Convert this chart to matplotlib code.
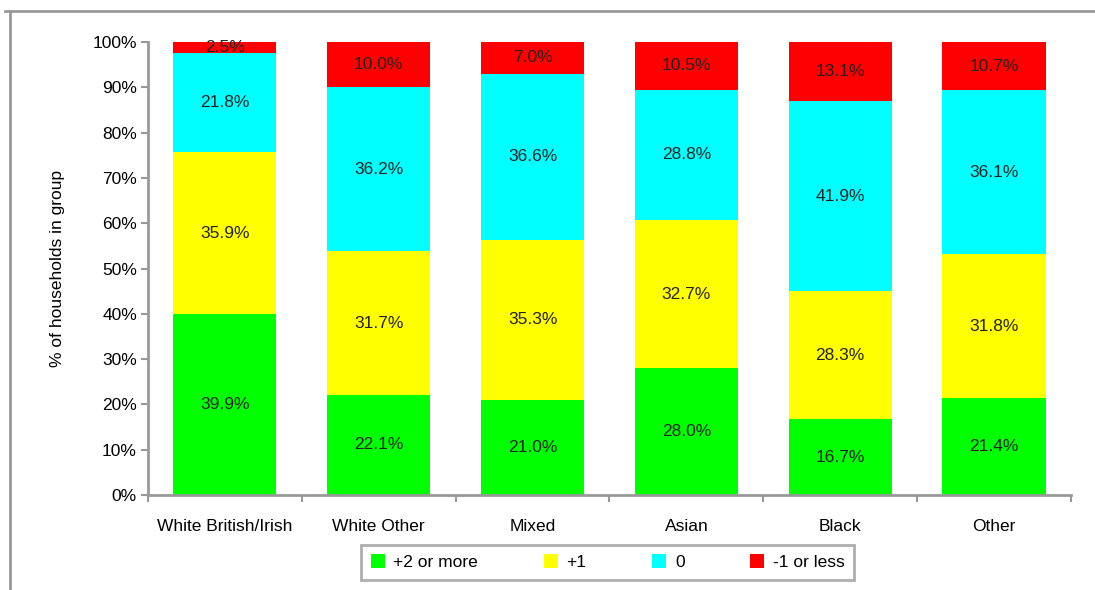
import matplotlib
matplotlib.use('Agg')
import matplotlib.pyplot as plt
import numpy as np
from matplotlib.lines import Line2D
from matplotlib.ticker import FixedLocator

plt.rcParams['font.family'] = ['Liberation Sans', 'DejaVu Sans']

groups = ['White British/Irish', 'White Other', 'Mixed', 'Asian', 'Black', 'Other']
series_names = ['+2 or more', '+1', '0', '-1 or less']
plus2 = [39.9, 22.1, 21.0, 28.0, 16.7, 21.4]
plus1 = [35.9, 31.7, 35.3, 32.7, 28.3, 31.8]
zero = [21.8, 36.2, 36.6, 28.8, 41.9, 36.1]
minus1 = [2.5, 10.0, 7.0, 10.5, 13.1, 10.7]
colors = ['#00ff00', '#ffff00', '#00ffff', '#ff0000']

values = np.array([plus2, plus1, zero, minus1])
shares = values / values.sum(axis=0) * 100  # 100% stacked like the original

fig = plt.figure(figsize=(10.95, 5.9), dpi=100)
ax = fig.add_axes([0.1352, 0.161, 0.8428, 0.7678])

x = np.arange(len(groups))
bottom = np.zeros(len(groups))
for i in range(len(series_names)):
    ax.bar(x, shares[i], bottom=bottom, width=0.67, color=colors[i],
           label=series_names[i], zorder=2)
    for j in range(len(groups)):
        ax.text(x[j], bottom[j] + shares[i][j] / 2, f'{values[i][j]:.1f}%',
                ha='center', va='center', fontsize=12.5, color='#222222', zorder=3)
    bottom += shares[i]

ax.set_xlim(-0.5, len(groups) - 0.5)
ax.set_ylim(0, 100)
ax.set_yticks(np.arange(0, 101, 10))
ax.set_yticklabels([f'{v}%' for v in range(0, 101, 10)], fontsize=12.5)
ax.set_xticks(x)
ax.set_xticklabels(groups, fontsize=12.5)
ax.xaxis.set_minor_locator(FixedLocator(np.arange(-0.5, len(groups), 1.0)))
ax.tick_params(axis='x', which='major', length=0, pad=17)
ax.tick_params(axis='x', which='minor', length=5, width=1.5, color='#999999')
ax.tick_params(axis='y', length=5, width=1.5, color='#999999', pad=3)
ax.set_ylabel('% of households in group', fontsize=12.5, labelpad=20)

for s in ['top', 'right']:
    ax.spines[s].set_visible(False)
for s in ['left', 'bottom']:
    ax.spines[s].set_color('#999999')
    ax.spines[s].set_linewidth(2)

leg = ax.legend(loc='center', bbox_to_anchor=(0.322, 0.017, 0.466, 0.06),
                bbox_transform=fig.transFigure, ncol=4, mode='expand',
                frameon=True, fancybox=False, fontsize=12.5,
                handlelength=0.8, handleheight=0.8, handletextpad=0.5,
                borderpad=0.55)
leg.get_frame().set_edgecolor('#999999')
leg.get_frame().set_linewidth(2)

# outer chart area border (partly cut off)
fig.add_artist(Line2D([5 / 1095, 1], [1 - 11 / 590, 1 - 11 / 590],
                      color='#999999', linewidth=2, transform=fig.transFigure))
fig.add_artist(Line2D([10 / 1095, 10 / 1095], [0, 1 - 11 / 590],
                      color='#999999', linewidth=2, transform=fig.transFigure))

fig.savefig('out.png', dpi=100)
